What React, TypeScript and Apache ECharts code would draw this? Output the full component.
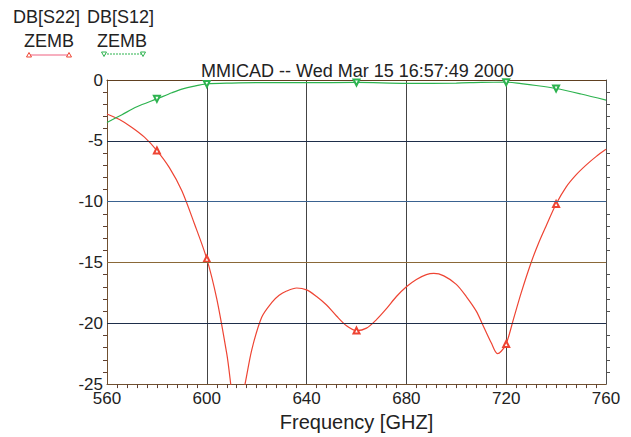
import React, { useEffect, useRef } from "react";
import * as echarts from "echarts";

const titleText = "MMICAD -- Wed Mar 15 16:57:49 2000";
const xAxisName = "Frequency [GHZ]";
const legendNames = ["DB[S22]", "DB[S12]"];
const legendSub = "ZEMB";

const s22Freq = [560, 565, 570, 575, 580, 585, 590, 595, 600, 604, 608, 612, 615, 618, 622, 626, 629, 632, 636, 640, 644, 648, 652, 656, 660, 664, 668, 672, 676, 680, 684, 688, 691, 695, 700, 704, 708, 711, 714, 716.5, 718, 720, 723, 726, 730, 733, 736, 740, 744, 748, 752, 756, 760];
const s22Val = [-2.8, -3.25, -3.9, -4.7, -5.8, -7.2, -9.1, -11.8, -14.7, -18.0, -22.5, -27.5, -25.3, -22.2, -19.5, -18.3, -17.7, -17.35, -17.1, -17.25, -17.8, -18.5, -19.4, -20.2, -20.6, -20.4, -19.7, -18.8, -17.8, -17.0, -16.4, -16.0, -15.9, -16.1, -16.8, -17.8, -19.0, -20.3, -21.6, -22.5, -22.3, -21.7, -19.6, -17.5, -15.0, -13.4, -12.0, -10.2, -8.8, -7.8, -7.0, -6.3, -5.7];

const s12Freq = [560, 566, 572, 580, 586, 590, 595, 600, 610, 620, 640, 660, 680, 700, 710, 720, 726, 732, 740, 750, 760];
const s12Val = [-3.5, -2.85, -2.2, -1.55, -1.05, -0.75, -0.5, -0.32, -0.25, -0.22, -0.22, -0.2, -0.28, -0.25, -0.2, -0.18, -0.3, -0.45, -0.7, -1.15, -1.65];

const markerFreqs = [580, 600, 660, 720, 740];

const hGridValues = [-5, -10, -15, -20];
const hGridColors = ["#1e2e4a", "#3a6290", "#8a6838", "#1e2e4a"];

const RED = "#ee4433";
const GREEN = "#2db34f";
const FONT = "Liberation Sans, Arial, sans-serif";

function buildData(freq: number[], vals: number[], symbol: string, rotate: number) {
  return freq.map((f, i) => {
    if (markerFreqs.indexOf(f) >= 0) {
      return { value: [f, vals[i]], symbol, symbolRotate: rotate, symbolSize: 6 };
    }
    return { value: [f, vals[i]], symbol: "none" };
  });
}

export default function App() {
  const ref = useRef<HTMLDivElement>(null);
  useEffect(() => {
    if (!ref.current) return;
    const chart = echarts.init(ref.current, null, { renderer: "svg" });
    const tri = (cx: number, cy: number, up: boolean, color: string) => ({
      type: "polygon",
      shape: {
        points: up
          ? [[cx - 2.5, cy + 2], [cx + 2.5, cy + 2], [cx, cy - 2.5]]
          : [[cx - 2.5, cy - 2], [cx + 2.5, cy - 2], [cx, cy + 2.5]],
      },
      style: { fill: "#fff", stroke: color, lineWidth: 1 },
    });
    chart.setOption({
      animation: false,
      backgroundColor: "#fff",
      title: {
        text: titleText,
        left: 196,
        top: 57,
        textStyle: { fontSize: 18, fontWeight: "normal", color: "#222", fontFamily: FONT },
      },
      graphic: [
        { type: "text", left: 13, top: 8, style: { text: legendNames[0], fontSize: 18, fill: "#222", fontFamily: FONT } },
        { type: "text", left: 24, top: 32, style: { text: legendSub, fontSize: 18, fill: "#222", fontFamily: FONT } },
        { type: "line", shape: { x1: 29, y1: 55, x2: 69, y2: 55 }, style: { stroke: "#f06080", lineWidth: 1.2 } },
        tri(29, 55, true, RED),
        tri(69, 55, true, RED),
        { type: "text", left: 87, top: 8, style: { text: legendNames[1], fontSize: 18, fill: "#222", fontFamily: FONT } },
        { type: "text", left: 97, top: 32, style: { text: legendSub, fontSize: 18, fill: "#222", fontFamily: FONT } },
        { type: "line", shape: { x1: 104, y1: 54, x2: 143, y2: 54 }, style: { stroke: GREEN, lineWidth: 1.2, lineDash: [2, 1] } },
        tri(104, 54, false, GREEN),
        tri(143, 54, false, GREEN),
      ],
      grid: { left: 107, right: 25, top: 80, bottom: 50, containLabel: false },
      xAxis: [
        {
          type: "value",
          min: 560,
          max: 760,
          interval: 40,
          name: xAxisName,
          nameLocation: "middle",
          nameGap: 26,
          nameTextStyle: { fontSize: 20, color: "#222", fontFamily: FONT },
          axisLine: { show: true, onZero: false, lineStyle: { color: "#705030", width: 1 } },
          axisTick: { show: false },
          minorTick: { show: true, splitNumber: 10, length: 4, lineStyle: { color: "#604030" } },
          axisLabel: { fontSize: 17, color: "#222", fontFamily: FONT, margin: 6 },
          splitLine: { show: true, lineStyle: { color: "#444", width: 1 } },
        },
        {
          type: "value",
          position: "top",
          min: 560,
          max: 760,
          interval: 40,
          axisLine: { show: true, onZero: false, lineStyle: { color: "#604020", width: 1.2 } },
          axisTick: { show: false },
          axisLabel: { show: false },
          splitLine: { show: false },
        },
      ],
      yAxis: [
        {
          type: "value",
          min: -25,
          max: 0,
          interval: 5,
          axisLine: { show: true, onZero: false, lineStyle: { color: "#705030", width: 1 } },
          axisTick: { show: false },
          minorTick: { show: true, splitNumber: 5, length: 4, lineStyle: { color: "#604030" } },
          axisLabel: { fontSize: 17, color: "#222", fontFamily: FONT, margin: 4, verticalAlign: "middle" },
          splitLine: { show: false },
        },
        {
          type: "value",
          position: "right",
          min: -25,
          max: 0,
          interval: 5,
          axisLine: { show: true, onZero: false, lineStyle: { color: "#505050", width: 1 } },
          axisTick: { show: false },
          minorTick: { show: true, splitNumber: 5, length: 4, lineStyle: { color: "#505050" } },
          axisLabel: { show: false },
          splitLine: { show: false },
        },
      ],
      series: [
        {
          name: "grid",
          type: "line",
          data: [],
          markLine: {
            silent: true,
            symbol: "none",
            label: { show: false },
            animation: false,
            data: hGridValues.map((v, i) => ({ yAxis: v, lineStyle: { color: hGridColors[i], width: 1.2, type: "solid" } })),
          },
        },
        {
          name: legendNames[0],
          type: "line",
          xAxisIndex: 0,
          yAxisIndex: 0,
          data: buildData(s22Freq, s22Val, "emptyTriangle", 0),
          smooth: 0.3,
          clip: true,
          lineStyle: { color: RED, width: 1.2 },
          itemStyle: { color: RED, borderColor: RED },
          z: 3,
        },
        {
          name: legendNames[1],
          type: "line",
          xAxisIndex: 0,
          yAxisIndex: 0,
          data: buildData(s12Freq, s12Val, "emptyTriangle", 180),
          smooth: 0.3,
          clip: true,
          lineStyle: { color: GREEN, width: 1.2 },
          itemStyle: { color: GREEN, borderColor: GREEN },
          z: 3,
        },
      ],
    });
    return () => chart.dispose();
  }, []);
  return (
    <div
      ref={ref}
      style={{ position: "fixed", left: 0, top: 0, width: 631, height: 437 }}
    />
  );
}
